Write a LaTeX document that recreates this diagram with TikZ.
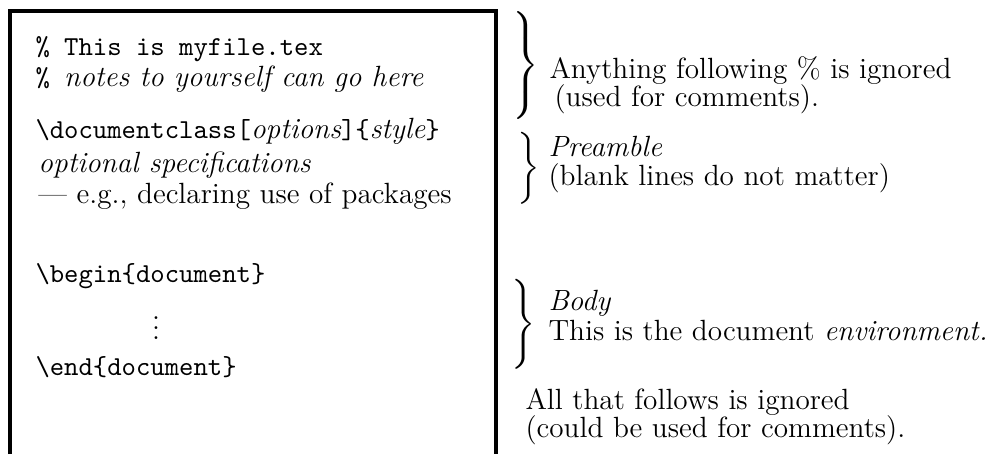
\documentclass[tikz,border=0pt]{standalone}
\usepackage{amsmath}
\usepackage{tikz}
\usetikzlibrary{positioning}
\tikzset{
    code/.style={
           anchor=base west,
           inner sep=0pt,
           font=\fontsize{10.95}{13}\selectfont\ttfamily
           },
    note/.style={
           anchor=base west,
           inner sep=0pt,
           font=\fontsize{11.7}{14}\selectfont
           },
    curly/.style={
           inner sep=0pt,
           font=\fontsize{11.7}{14}\selectfont
           },
    frame/.style={
           draw=black,
           line width=1.25pt
           }
}
\newcommand{\curlyof}[1]{$\left.\vcenter{\hbox{\vrule height #1 width 0pt}}\right\}$}
\newcommand{\rmit}[1]{{\fontsize{11.7}{14}\selectfont\rmfamily\itshape #1}}

\begin{document}
\begin{tikzpicture}[x=0.4pt, y=-0.4pt]
   \useasboundingbox (0,0) rectangle (992,454);
   % the file
   \coordinate (fl) at (10,454);
   \coordinate (fr) at (496,454);
   \draw[frame] (fl) |- (496,11) -- (fr);
   \node[code] (c1) at (35,55) {\% This is myfile.tex};
   \node[code] (c2) at (35,86) {\% \rmit{notes to yourself can go here}};
   \node[code] (c3) at (35,138) {\textbackslash documentclass[\rmit{options}]\{\rmit{style}\}};
   \node[note] (c4) at (38,172) {\textit{optional specifications}};
   \node[note] (c5) at (38,203) {--- e.g., declaring use of packages};
   \node[code] (c6) at (35,282) {\textbackslash begin\{document\}};
   \node[curly, anchor=base] (dots) at (156,339) {$\vdots$};
   \node[code] (c7) at (35,375) {\textbackslash end\{document\}};
   % the notes
   \node[curly] (braceA) at (524,65) {\curlyof{40pt}};
   \node[curly] (braceB) at (527,168) {\curlyof{27pt}};
   \node[curly] (braceC) at (522,324) {\curlyof{34pt}};
   \node[note] (n1) at (549,78) {Anything following \% is ignored};
   \node[note] (n2) at (554,106) {(used for comments).};
   \node[note] (n3) at (548,156) {\textit{Preamble}};
   \node[note] (n4) at (548,185) {(blank lines do not matter)};
   \node[note] (n5) at (548,310) {\textit{Body}};
   \node[note] (n6) at (548,340) {This is the document \textit{environment.}};
   \node[note] (n7) at (525,409) {All that follows is ignored};
   \node[note] (n8) at (525,437) {(could be used for comments).};
\end{tikzpicture}
\end{document}
